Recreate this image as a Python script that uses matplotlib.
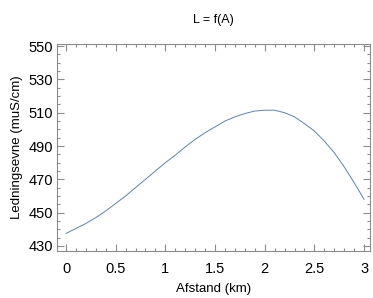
import matplotlib
matplotlib.use("Agg")
import matplotlib.pyplot as plt
from matplotlib.ticker import MultipleLocator

plt.rcParams['font.family'] = ['Liberation Sans', 'DejaVu Sans']

# values
afstand = [0.0, 0.1, 0.2, 0.3, 0.4, 0.5, 0.6, 0.7, 0.8, 0.9,
           1.0, 1.1, 1.2, 1.3, 1.4, 1.5, 1.6, 1.7, 1.8, 1.9,
           2.0, 2.1, 2.2, 2.3, 2.4, 2.5, 2.6, 2.7, 2.8, 2.9, 3.0]
ledningsevne = [437.5, 440.5, 443.5, 447.0, 451.0, 455.5, 460.0, 465.0, 470.0, 475.0,
                480.0, 484.5, 489.5, 494.0, 498.0, 501.5, 505.0, 507.5, 509.5, 511.0,
                511.5, 511.5, 510.0, 507.5, 503.5, 499.0, 493.0, 486.0, 477.5, 468.0, 458.0]
x_ticks = [0, 0.5, 1, 1.5, 2, 2.5, 3]
x_labels = ["0", "0.5", "1", "1.5", "2", "2.5", "3"]
y_ticks = [430, 450, 470, 490, 510, 530, 550]

fig = plt.figure(figsize=(3.73, 2.98), dpi=100)
ax = fig.add_axes([0.153, 0.158, 0.839, 0.694])

ax.plot(afstand, ledningsevne, color='#5e81b5', linewidth=0.7)

ax.set_xlim(-0.09, 3.06)
ax.set_ylim(427.0, 551.2)
ax.set_xticks(x_ticks)
ax.set_xticklabels(x_labels)
ax.set_yticks(y_ticks)
ax.xaxis.set_minor_locator(MultipleLocator(0.1))
ax.yaxis.set_minor_locator(MultipleLocator(5))

grey = '#8c8c8c'
for s in ax.spines.values():
    s.set_color(grey)
    s.set_linewidth(0.8)
ax.tick_params(which='both', direction='in', top=True, right=True,
               color=grey, labelsize=10.5, labelcolor='black', width=0.8)
ax.tick_params(which='major', length=5)
ax.tick_params(which='minor', length=2.5)
ax.tick_params(axis='y', which='major', pad=3)
ax.tick_params(axis='x', which='major', pad=8)

ax.set_xlabel('Afstand (km)', fontsize=9.5, labelpad=5)
ax.set_ylabel('Ledningsevne (muS/cm)', fontsize=9.5, labelpad=4)
ax.set_title('L = f(A)', fontsize=9, pad=15)

fig.savefig('out.png', dpi=100)
